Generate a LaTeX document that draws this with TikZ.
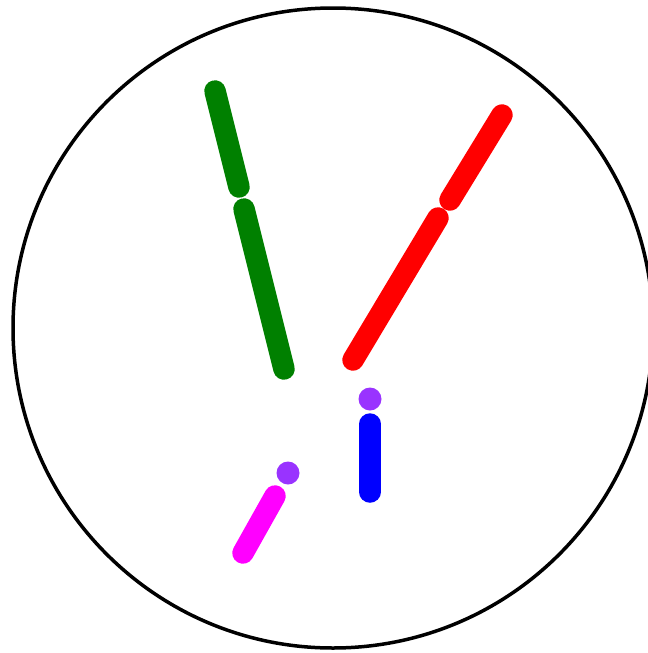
\documentclass[tikz,border=0pt]{standalone}
\usepackage{tikz}
\usetikzlibrary{calc}

\definecolor{leafgreen}{RGB}{0,128,0}
\definecolor{dotpurple}{RGB}{153,51,255}
\definecolor{rodred}{RGB}{255,0,0}
\definecolor{rodblue}{RGB}{0,0,255}
\definecolor{rodpink}{RGB}{255,0,255}

\begin{document}
\begin{tikzpicture}[x=0.02cm, y=-0.02cm,
    rod/.style={line width=0.43cm, line cap=round},
    dot/.style={fill=dotpurple, draw=none}]
        \useasboundingbox (0,0) rectangle (647,653);
        % Outer circle
        \draw[line width=0.07cm] (333,328) circle (320);

        % Green rods
        \draw[rod, leafgreen] (215,91) -- (239,187);
        \draw[rod, leafgreen] (244,209) -- (284,369);

        % Red rods
        \draw[rod, rodred] (502,115) -- (450,200);
        \draw[rod, rodred] (438,218) -- (353,360);

        % Blue rod with dot
        \fill[dot] (370,399) circle (11.5);
        \draw[rod, rodblue] (370,424) -- (370,492);

        % Magenta rod with dot
        \fill[dot] (288,473) circle (11.5);
        \draw[rod, rodpink] (275,496) -- (243,553);
    \end{tikzpicture}
\end{document}
